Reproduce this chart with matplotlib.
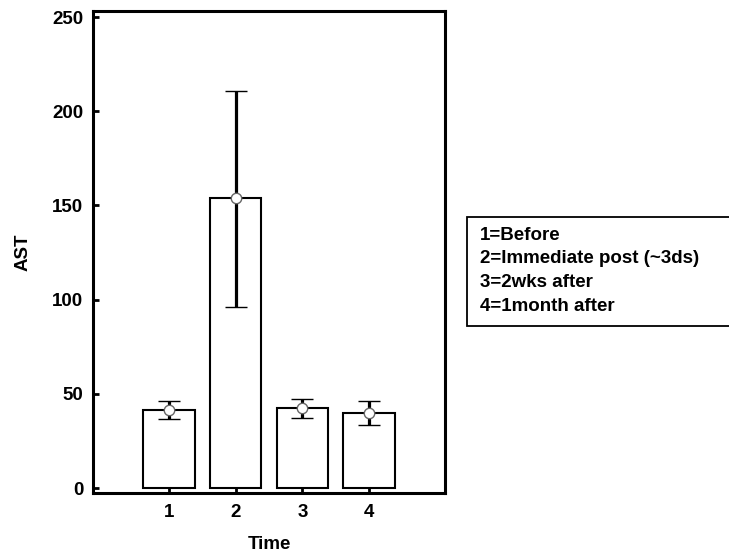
import numpy as np
import matplotlib
matplotlib.use("Agg")
import matplotlib.pyplot as plt
from matplotlib.patches import Rectangle

plt.rcParams['font.family'] = ['Liberation Sans', 'DejaVu Sans']
plt.rcParams['font.weight'] = 'bold'

# данные
times = [1, 2, 3, 4]
ast_mean = [41.5, 153.8, 42.6, 40.0]
err_low = [36.8, 96.3, 37.4, 33.6]
err_high = [46.2, 210.5, 47.0, 46.0]
legend_lines = ["1=Before", "2=Immediate post (~3ds)", "3=2wks after", "4=1month after"]

fig = plt.figure(figsize=(7.29, 5.57), dpi=100)
ax = fig.add_axes([0.1276, 0.1149, 0.4828, 0.8654])

ax.bar(times, ast_mean, width=0.77, color='white', edgecolor='black', linewidth=1.5, zorder=2)

yerr = [np.array(ast_mean) - np.array(err_low), np.array(err_high) - np.array(ast_mean)]
ax.errorbar(times, ast_mean, yerr=yerr, fmt='o', color='black', ecolor='black',
            elinewidth=2.3, capsize=8, capthick=2.6,
            markerfacecolor='white', markeredgecolor='#666666', markersize=7.5,
            markeredgewidth=1, zorder=3)

ax.set_xlim(-0.14, 5.14)
ax.set_ylim(-2.65, 253.2)
ax.set_xticks(times)
ax.set_yticks([0, 50, 100, 150, 200, 250])
ax.tick_params(direction='in', length=4, width=2, labelsize=13.5, pad=8)
ax.tick_params(axis='y', pad=7)
for lab in ax.get_xticklabels() + ax.get_yticklabels():
    lab.set_fontweight('bold')
for sp in ax.spines.values():
    sp.set_linewidth(2.2)

ax.set_xlabel("Time", fontsize=13.5, fontweight='bold', labelpad=11)
ax.set_ylabel("AST", fontsize=13.5, fontweight='bold')
ax.yaxis.set_label_coords(-0.176, 0.5)

# рамка с пояснениями
box = Rectangle((467 / 729, (557 - 326) / 557), 0.4, 109 / 557, transform=fig.transFigure,
                facecolor='white', edgecolor='black', linewidth=1.3)
fig.add_artist(box)
for i, line in enumerate(legend_lines):
    y = (557 - 235 - i * 23.7) / 557
    fig.text(480 / 729, y, line, fontsize=13.5, fontweight='bold', va='center', ha='left')

fig.savefig("out.png", dpi=100)
